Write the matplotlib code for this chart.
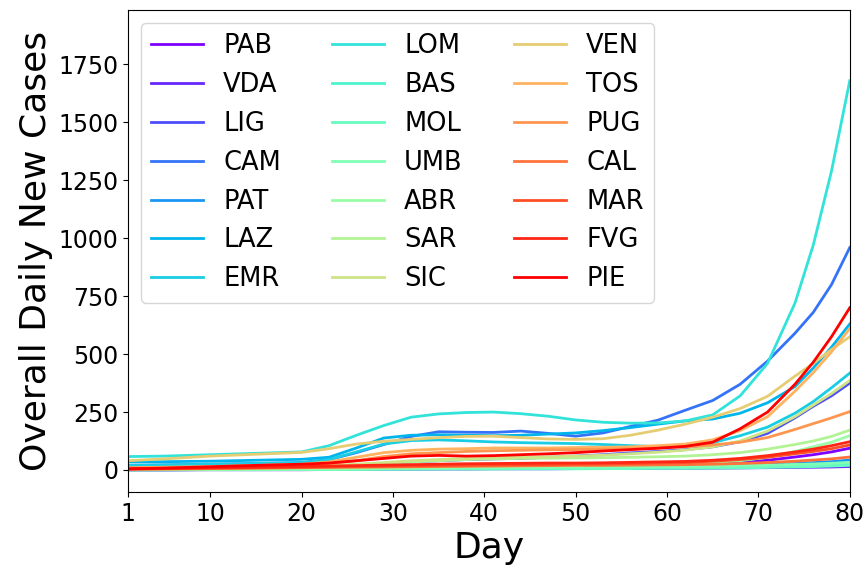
import matplotlib
matplotlib.use("Agg")
import matplotlib.pyplot as plt
import numpy as np

days = [1, 5, 10, 15, 20, 23, 26, 29, 32, 35, 38, 41, 44, 47, 50, 53, 56, 59, 62, 65, 68, 71, 74, 76, 78, 80]

regions = ["PAB", "VDA", "LIG", "CAM", "PAT", "LAZ", "EMR", "LOM", "BAS", "MOL", "UMB",
           "ABR", "SAR", "SIC", "VEN", "TOS", "PUG", "CAL", "MAR", "FVG", "PIE"]

PAB = [1, 1, 2, 3, 4, 5, 6, 7, 8, 10, 11, 12, 13, 13, 14, 15, 16, 17, 19, 25, 32, 42, 56, 66, 78, 94]
VDA = [0, 0, 1, 1, 1, 2, 2, 3, 3, 4, 4, 5, 5, 5, 6, 6, 6, 7, 7, 8, 9, 10, 11, 12, 13, 15]
LIG = [2, 3, 5, 7, 10, 14, 20, 28, 35, 40, 45, 48, 50, 55, 60, 66, 74, 80, 88, 100, 122, 158, 225, 275, 320, 375]
CAM = [20, 22, 25, 28, 32, 45, 75, 110, 145, 165, 163, 162, 168, 158, 146, 160, 188, 215, 258, 300, 370, 470, 590, 680, 800, 960]
PAT = [2, 3, 4, 4, 5, 6, 7, 9, 10, 12, 13, 14, 15, 15, 16, 16, 17, 18, 19, 20, 22, 25, 28, 32, 36, 43]
LAZ = [35, 36, 38, 42, 46, 55, 95, 138, 150, 152, 150, 148, 150, 155, 160, 170, 183, 198, 212, 220, 245, 290, 360, 440, 530, 630]
EMR = [20, 22, 25, 28, 32, 45, 78, 112, 127, 130, 126, 121, 118, 116, 114, 110, 105, 101, 104, 118, 148, 185, 245, 295, 355, 418]
LOM = [58, 60, 66, 72, 78, 105, 150, 192, 228, 242, 248, 250, 243, 232, 216, 206, 202, 203, 212, 238, 320, 460, 720, 970, 1290, 1680]
BAS = [1, 1, 2, 2, 3, 3, 4, 5, 6, 6, 7, 8, 8, 9, 9, 10, 11, 12, 12, 13, 15, 17, 19, 21, 23, 26]
MOL = [0, 1, 1, 1, 2, 2, 2, 3, 3, 4, 4, 4, 5, 5, 5, 6, 6, 7, 7, 8, 9, 11, 13, 15, 17, 20]
UMB = [1, 1, 2, 2, 3, 4, 5, 6, 7, 8, 9, 10, 11, 12, 12, 13, 14, 15, 16, 17, 19, 21, 24, 26, 29, 33]
ABR = [2, 2, 3, 4, 5, 6, 7, 9, 10, 12, 14, 15, 16, 17, 18, 20, 22, 24, 27, 32, 40, 55, 80, 100, 120, 148]
SAR = [3, 4, 5, 7, 10, 14, 20, 28, 35, 40, 45, 48, 50, 51, 52, 53, 55, 57, 60, 66, 75, 90, 110, 125, 145, 172]
SIC = [5, 6, 10, 12, 15, 18, 25, 32, 40, 45, 50, 53, 55, 57, 60, 64, 70, 77, 86, 100, 125, 168, 230, 280, 330, 386]
VEN = [40, 48, 60, 68, 76, 92, 112, 124, 132, 140, 145, 146, 140, 134, 132, 135, 150, 172, 198, 228, 265, 318, 405, 460, 520, 575]
TOS = [10, 12, 15, 20, 25, 35, 55, 75, 85, 90, 92, 95, 95, 95, 97, 98, 100, 105, 112, 130, 170, 230, 340, 420, 510, 610]
PUG = [8, 10, 12, 15, 20, 28, 40, 58, 70, 75, 80, 83, 85, 87, 88, 90, 92, 95, 100, 108, 120, 140, 175, 200, 225, 252]
CAL = [3, 4, 6, 8, 10, 11, 12, 13, 14, 15, 16, 17, 18, 19, 20, 20, 21, 22, 23, 25, 28, 32, 38, 43, 48, 56]
MAR = [4, 6, 8, 10, 12, 14, 15, 17, 18, 20, 21, 22, 23, 24, 25, 26, 28, 30, 32, 38, 45, 55, 70, 80, 92, 108]
FVG = [5, 7, 10, 12, 15, 17, 19, 21, 23, 25, 27, 28, 29, 30, 30, 31, 33, 35, 37, 42, 50, 62, 78, 90, 105, 122]
PIE = [5, 8, 14, 20, 25, 30, 40, 50, 60, 63, 60, 62, 66, 70, 75, 82, 88, 94, 102, 120, 178, 250, 370, 465, 575, 700]

series = [PAB, VDA, LIG, CAM, PAT, LAZ, EMR, LOM, BAS, MOL, UMB,
          ABR, SAR, SIC, VEN, TOS, PUG, CAL, MAR, FVG, PIE]

xticks = [1, 10, 20, 30, 40, 50, 60, 70, 80]
yticks = [0, 250, 500, 750, 1000, 1250, 1500, 1750]

fig = plt.figure(figsize=(8.68, 5.69), dpi=100)
ax = fig.add_axes([0.1475, 0.1353, 0.8315, 0.8471])
cmap = plt.get_cmap("rainbow")
n = len(regions)
for i, (name, vals) in enumerate(zip(regions, series)):
    ax.plot(days, vals, color=cmap(i / (n - 1)), lw=2, label=name)

ax.set_xlim(1, 80)
ax.set_ylim(-95, 1985)
ax.set_xticks(xticks)
ax.set_yticks(yticks)
ax.tick_params(labelsize=17)
ax.set_xlabel("Day", fontsize=26)
ax.set_ylabel("Overall Daily New Cases", fontsize=26)
ax.legend(loc="upper left", ncol=3, fontsize=18.5, columnspacing=2.0)
fig.savefig("out.png", dpi=100)
